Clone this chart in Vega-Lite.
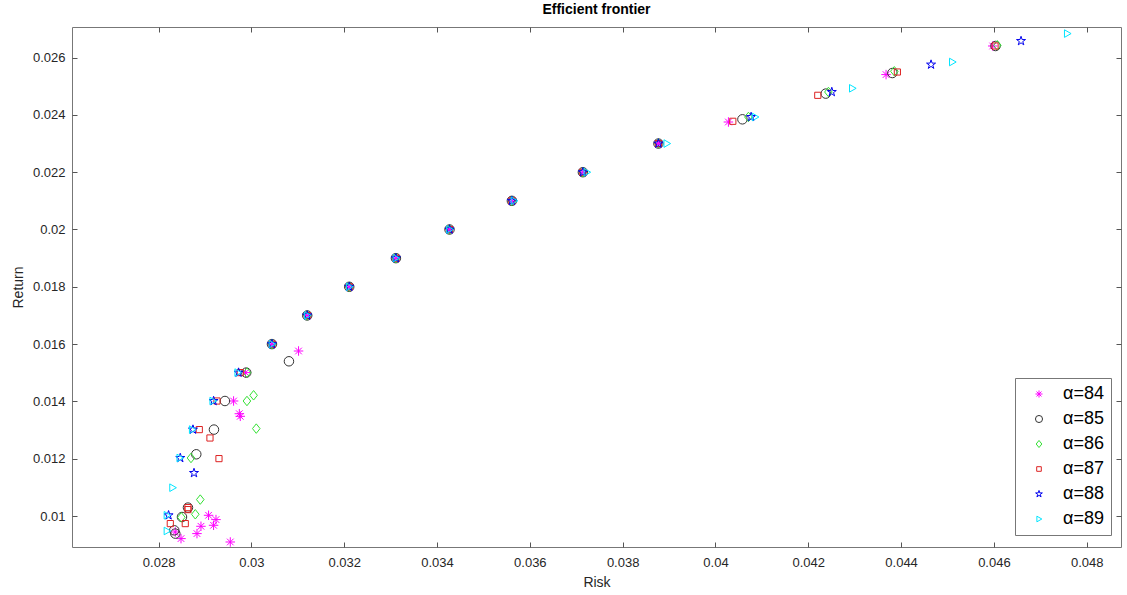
{
  "$schema": "https://vega.github.io/schema/vega-lite/v6.json",
  "autosize": {"type": "none"},
  "width": 1049,
  "height": 520,
  "padding": {"left": 72, "top": 27, "right": 6, "bottom": 48},
  "background": "white",
  "title": {"text": "Efficient frontier", "fontSize": 14, "fontWeight": "bold", "font": "Liberation Sans", "color": "#000000", "anchor": "middle", "offset": 10},
  "config": {
    "view": {"stroke": "#777777", "strokeWidth": 1},
    "axis": {"grid": false, "domain": false, "labelFont": "Liberation Sans", "titleFont": "Liberation Sans", "labelFontSize": 13, "titleFontSize": 14, "labelColor": "#262626", "titleColor": "#262626", "titleFontWeight": "normal", "tickColor": "#555555", "tickSize": -5, "tickWidth": 1}
  },
  "data": {"values": [
    {"a":"α=84","x":0.031016,"y":0.015759},{"a":"α=84","x":0.029874,"y":0.015005},{"a":"α=84","x":0.029616,"y":0.014014},{"a":"α=84","x":0.02974,"y":0.01357},{"a":"α=84","x":0.02976,"y":0.01348},{"a":"α=84","x":0.029077,"y":0.010025},{"a":"α=84","x":0.029237,"y":0.009875},{"a":"α=84","x":0.029185,"y":0.009676},{"a":"α=84","x":0.028913,"y":0.009641},{"a":"α=84","x":0.028827,"y":0.009386},{"a":"α=84","x":0.028483,"y":0.009211},{"a":"α=84","x":0.029545,"y":0.009093},{"a":"α=84","x":0.02836,"y":0.009442},
    {"a":"α=84","x":0.030443,"y":0.016},{"a":"α=84","x":0.031203,"y":0.017},{"a":"α=84","x":0.032108,"y":0.018},{"a":"α=84","x":0.033114,"y":0.019},{"a":"α=84","x":0.034269,"y":0.02},{"a":"α=84","x":0.035613,"y":0.021},{"a":"α=84","x":0.037143,"y":0.022},{"a":"α=84","x":0.038771,"y":0.023},
    {"a":"α=84","x":0.040279,"y":0.023752},{"a":"α=84","x":0.043676,"y":0.025407},{"a":"α=84","x":0.045975,"y":0.026405},
    {"a":"α=85","x":0.030809,"y":0.0154},{"a":"α=85","x":0.029889,"y":0.015005},{"a":"α=85","x":0.02943,"y":0.014014},{"a":"α=85","x":0.029193,"y":0.013016},{"a":"α=85","x":0.028812,"y":0.012154},{"a":"α=85","x":0.028633,"y":0.010293},{"a":"α=85","x":0.028504,"y":0.009965},{"a":"α=85","x":0.028338,"y":0.0095},{"a":"α=85","x":0.02836,"y":0.009386},
    {"a":"α=85","x":0.030443,"y":0.016},{"a":"α=85","x":0.031203,"y":0.017},{"a":"α=85","x":0.032108,"y":0.018},{"a":"α=85","x":0.033114,"y":0.019},{"a":"α=85","x":0.034269,"y":0.02},{"a":"α=85","x":0.035613,"y":0.021},{"a":"α=85","x":0.037143,"y":0.022},{"a":"α=85","x":0.038771,"y":0.023},
    {"a":"α=85","x":0.040581,"y":0.023846},{"a":"α=85","x":0.042377,"y":0.024743},{"a":"α=85","x":0.043812,"y":0.025462},{"a":"α=85","x":0.046035,"y":0.026405},
    {"a":"α=86","x":0.029904,"y":0.015005},{"a":"α=86","x":0.029904,"y":0.014014},{"a":"α=86","x":0.030047,"y":0.014213},{"a":"α=86","x":0.030105,"y":0.013051},{"a":"α=86","x":0.028698,"y":0.012025},{"a":"α=86","x":0.028898,"y":0.010573},{"a":"α=86","x":0.028791,"y":0.01006},{"a":"α=86","x":0.02849,"y":0.009955},
    {"a":"α=86","x":0.030443,"y":0.016},{"a":"α=86","x":0.031203,"y":0.017},{"a":"α=86","x":0.032108,"y":0.018},{"a":"α=86","x":0.033114,"y":0.019},{"a":"α=86","x":0.034269,"y":0.02},{"a":"α=86","x":0.035613,"y":0.021},{"a":"α=86","x":0.037143,"y":0.022},{"a":"α=86","x":0.038771,"y":0.023},
    {"a":"α=86","x":0.04071,"y":0.023927},{"a":"α=86","x":0.042434,"y":0.024799},{"a":"α=86","x":0.043855,"y":0.025522},{"a":"α=86","x":0.046074,"y":0.026429},
    {"a":"α=87","x":0.02976,"y":0.015005},{"a":"α=87","x":0.029258,"y":0.014014},{"a":"α=87","x":0.028877,"y":0.013016},{"a":"α=87","x":0.029107,"y":0.012723},{"a":"α=87","x":0.029301,"y":0.012003},{"a":"α=87","x":0.028633,"y":0.010293},{"a":"α=87","x":0.028633,"y":0.010223},{"a":"α=87","x":0.028252,"y":0.009735},{"a":"α=87","x":0.028575,"y":0.009735},
    {"a":"α=87","x":0.030443,"y":0.016},{"a":"α=87","x":0.031203,"y":0.017},{"a":"α=87","x":0.032108,"y":0.018},{"a":"α=87","x":0.033114,"y":0.019},{"a":"α=87","x":0.034269,"y":0.02},{"a":"α=87","x":0.035613,"y":0.021},{"a":"α=87","x":0.037143,"y":0.022},{"a":"α=87","x":0.038771,"y":0.023},
    {"a":"α=87","x":0.040374,"y":0.023777},{"a":"α=87","x":0.042205,"y":0.024684},{"a":"α=87","x":0.04392,"y":0.025497},{"a":"α=87","x":0.046025,"y":0.026405},
    {"a":"α=88","x":0.029723,"y":0.015005},{"a":"α=88","x":0.029185,"y":0.014014},{"a":"α=88","x":0.028741,"y":0.013016},{"a":"α=88","x":0.028467,"y":0.012025},{"a":"α=88","x":0.028763,"y":0.011501},{"a":"α=88","x":0.028215,"y":0.010025},
    {"a":"α=88","x":0.030443,"y":0.016},{"a":"α=88","x":0.031203,"y":0.017},{"a":"α=88","x":0.032108,"y":0.018},{"a":"α=88","x":0.033114,"y":0.019},{"a":"α=88","x":0.034269,"y":0.02},{"a":"α=88","x":0.035613,"y":0.021},{"a":"α=88","x":0.037143,"y":0.022},{"a":"α=88","x":0.038771,"y":0.023},
    {"a":"α=88","x":0.040768,"y":0.023927},{"a":"α=88","x":0.042507,"y":0.024799},{"a":"α=88","x":0.044646,"y":0.025756},{"a":"α=88","x":0.046585,"y":0.026579},
    {"a":"α=89","x":0.029706,"y":0.015005},{"a":"α=89","x":0.029168,"y":0.014014},{"a":"α=89","x":0.028726,"y":0.013016},{"a":"α=89","x":0.028457,"y":0.012025},{"a":"α=89","x":0.028302,"y":0.010988},{"a":"α=89","x":0.028181,"y":0.010025},{"a":"α=89","x":0.028181,"y":0.009477},
    {"a":"α=89","x":0.030443,"y":0.016},{"a":"α=89","x":0.031203,"y":0.017},{"a":"α=89","x":0.032108,"y":0.018},{"a":"α=89","x":0.033114,"y":0.019},{"a":"α=89","x":0.034269,"y":0.02},{"a":"α=89","x":0.03566,"y":0.021},{"a":"α=89","x":0.037229,"y":0.022},{"a":"α=89","x":0.038952,"y":0.023},
    {"a":"α=89","x":0.040855,"y":0.023927},{"a":"α=89","x":0.04295,"y":0.024928},{"a":"α=89","x":0.045105,"y":0.025846},{"a":"α=89","x":0.047582,"y":0.026838}
  ]},
  "resolve": {"axis": {"x": "independent", "y": "independent"}},
  "layer": [
    {
      "mark": {"type": "point", "filled": false, "strokeWidth": 1, "opacity": 1},
      "encoding": {
        "x": {"field": "x", "type": "quantitative", "scale": {"domain": [0.026134, 0.048739], "nice": false, "zero": false},
              "axis": {"orient": "bottom", "title": "Risk", "values": [0.028,0.03,0.032,0.034,0.036,0.038,0.04,0.042,0.044,0.046,0.048], "format": "~g", "labelPadding": 14, "titlePadding": 6, "labelFlush": false}},
        "y": {"field": "y", "type": "quantitative", "scale": {"domain": [0.008918, 0.027068], "nice": false, "zero": false},
              "axis": {"orient": "left", "title": "Return", "values": [0.01,0.012,0.014,0.016,0.018,0.02,0.022,0.024,0.026], "format": "~g", "labelPadding": 12, "titlePadding": 7, "labelFlush": false}},
        "color": {"field": "a", "type": "nominal",
                  "scale": {"domain": ["α=84","α=85","α=86","α=87","α=88","α=89"], "range": ["#ff00ff","#333333","#33e033","#dd2222","#0000ee","#00e5ff"]},
                  "legend": {"title": null, "orient": "none", "legendX": 943, "legendY": 351, "labelFont": "Liberation Sans", "labelFontSize": 18, "labelColor": "#000000", "strokeColor": "#777777", "fillColor": "#ffffff", "padding": 7, "rowPadding": 7, "symbolOffset": 8, "labelOffset": 15, "symbolSize": 50, "symbolStrokeWidth": 1}},
        "shape": {"field": "a", "type": "nominal",
                  "scale": {"domain": ["α=84","α=85","α=86","α=87","α=88","α=89"], "range": [
                    "M0,-1L0,1M-1,0L1,0M-0.7,-0.7L0.7,0.7M-0.7,0.7L0.7,-0.7",
                    "circle",
                    "M0,-1L0.8,0L0,1L-0.8,0Z",
                    "M-0.65,-0.65L0.65,-0.65L0.65,0.65L-0.65,0.65Z",
                    "M0,-1L0.2245,-0.309L0.951,-0.309L0.363,0.118L0.588,0.809L0,0.382L-0.588,0.809L-0.363,0.118L-0.951,-0.309L-0.2245,-0.309Z",
                    "M-0.6,-0.8L0.8,0L-0.6,0.8Z"]},
                  "legend": null},
        "size": {"value": 90}
      }
    },
    {
      "mark": {"type": "point", "opacity": 0},
      "encoding": {
        "x": {"field": "x", "type": "quantitative", "axis": {"orient": "top", "title": null, "labels": false, "values": [0.028,0.03,0.032,0.034,0.036,0.038,0.04,0.042,0.044,0.046,0.048]}},
        "y": {"field": "y", "type": "quantitative", "axis": {"orient": "right", "title": null, "labels": false, "values": [0.01,0.012,0.014,0.016,0.018,0.02,0.022,0.024,0.026]}}
      }
    }
  ]
}
